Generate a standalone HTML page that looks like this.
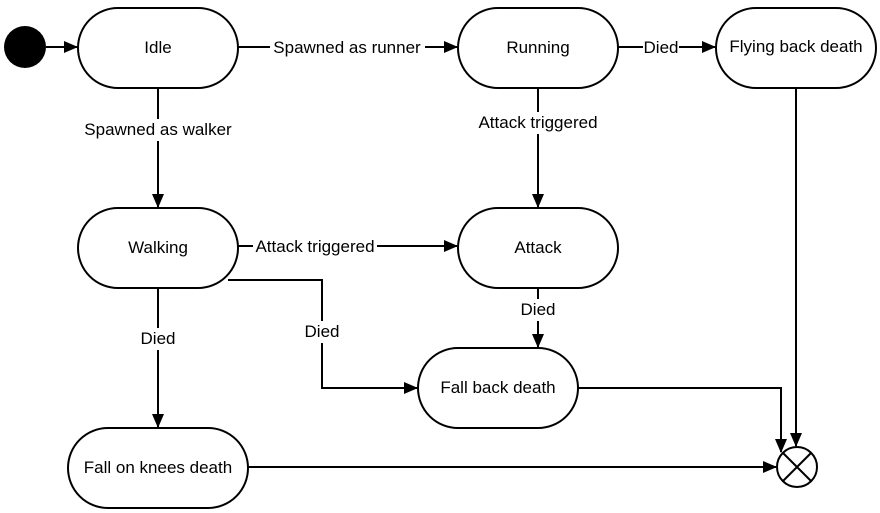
<!DOCTYPE html>
<html><head><style>body{margin:0;background:#fff}svg{display:block}text{font-family:"Liberation Sans",sans-serif;font-size:17px;fill:#000}</style></head><body>
<svg width="880" height="513" viewBox="0 0 880 513">
<defs><marker id="a" markerWidth="14" markerHeight="12" refX="13" refY="6" orient="auto" markerUnits="userSpaceOnUse"><path d="M0,0L14,6L0,12z" fill="#000"/></marker></defs>
<g fill="none" stroke="#000" stroke-width="2">
<rect x="78" y="8" width="160" height="80" rx="40"/>
<rect x="458" y="8" width="160" height="80" rx="40"/>
<rect x="716" y="8" width="160" height="80" rx="40"/>
<rect x="78" y="208" width="160" height="80" rx="40"/>
<rect x="458" y="208" width="160" height="80" rx="40"/>
<rect x="418" y="348" width="160" height="80" rx="40"/>
<rect x="68" y="428" width="180" height="80" rx="40"/>
<circle cx="797" cy="467" r="20"/>
<path d="M783,453L811,481M811,453L783,481"/>
<path d="M46,47H77" marker-end="url(#a)"/>
<path d="M238,47H457" marker-end="url(#a)"/>
<path d="M618,47H715" marker-end="url(#a)"/>
<path d="M158,88V207" marker-end="url(#a)"/>
<path d="M538,88V207" marker-end="url(#a)"/>
<path d="M238,246H457" marker-end="url(#a)"/>
<path d="M228,280H322V388H417" marker-end="url(#a)"/>
<path d="M538,288V347" marker-end="url(#a)"/>
<path d="M158,288V427" marker-end="url(#a)"/>
<path d="M578,388H781V452" marker-end="url(#a)"/>
<path d="M796,88V446" marker-end="url(#a)"/>
<path d="M248,467H776" marker-end="url(#a)"/>
</g>
<circle cx="25" cy="47" r="21" fill="#000"/>
<g text-anchor="middle">
<text x="158" y="53">Idle</text>
<text x="538" y="53">Running</text>
<text x="796" y="52">Flying back death</text>
<text x="158" y="253">Walking</text>
<text x="538" y="253">Attack</text>
<text x="498" y="393">Fall back death</text>
<text x="158" y="473">Fall on knees death</text>
<rect x="270" y="37" width="155" height="20" fill="#fff"/><text x="347" y="53">Spawned as runner</text>
<rect x="643" y="37" width="36" height="20" fill="#fff"/><text x="661" y="53">Died</text>
<rect x="80" y="119" width="156" height="22" fill="#fff"/><text x="158" y="135">Spawned as walker</text>
<rect x="475" y="112" width="126" height="22" fill="#fff"/><text x="538" y="128">Attack triggered</text>
<rect x="253" y="236" width="124" height="20" fill="#fff"/><text x="315" y="252">Attack triggered</text>
<rect x="304" y="321" width="36" height="22" fill="#fff"/><text x="322" y="337">Died</text>
<rect x="520" y="299" width="36" height="22" fill="#fff"/><text x="538" y="315">Died</text>
<rect x="140" y="328" width="36" height="22" fill="#fff"/><text x="158" y="344">Died</text>
</g>
</svg></body></html>
